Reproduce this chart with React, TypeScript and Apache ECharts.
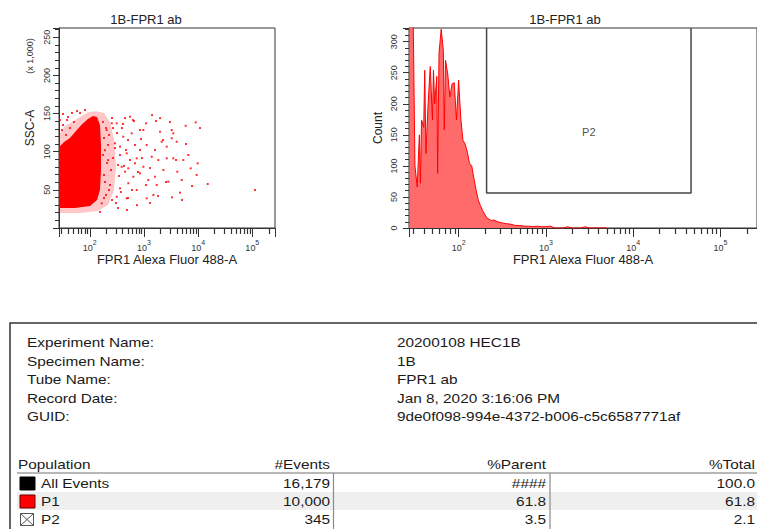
import React, { useEffect, useRef } from 'react';
import * as echarts from 'echarts';

const FONT = '"Liberation Sans", Arial, sans-serif';

// ---------- plot texts ----------
const plotTitle = '1B-FPR1 ab';
const xAxisTitle = 'FPR1 Alexa Fluor 488-A';
const leftYTitle = 'SSC-A';
const leftYUnit = '(x 1,000)';
const rightYTitle = 'Count';

// ---------- axes ----------
const xMin = 27;
const xMax = 262144;
const decadeTicks = [100, 1000, 10000, 100000];
const minorXTicks = [
  30, 40, 50, 60, 70, 80, 90,
  200, 300, 400, 500, 600, 700, 800, 900,
  2000, 3000, 4000, 5000, 6000, 7000, 8000, 9000,
  20000, 30000, 40000, 50000, 60000, 70000, 80000, 90000,
  200000,
];
const sscMax = 262.144;
const countMax = 322;

// ---------- dot plot (FPR1 vs SSC-A x1000) ----------
// dense core outline of the population
const coreX = [27, 27, 33.4, 43, 55.6, 71.8, 92.6, 114.6, 135.8, 154, 161, 161, 154, 136, 101, 53, 27];
const coreY = [27.5, 106, 112.7, 118, 127, 136, 142.9, 146.8, 145.5, 135, 108.8, 76, 49.8, 36.7, 28.8, 26.2, 26.2];
// lighter, less dense fringe around the core
const haloX = [27, 27, 34.8, 46.9, 65.9, 92.6, 130, 183, 236, 280, 305, 280, 217, 142, 66, 27];
const haloY = [20.9, 121.9, 133.7, 139, 145.5, 151.6, 153, 150.7, 139, 115, 82.6, 49.8, 30, 22.3, 19.7, 19.7];
// individual events outside the core
const sparseEvents: [number, number][] = [
  [112200, 49.8], [15030, 57.7], [9800, 84.8], [9400, 69.5], [9010, 138.5],
  [5890, 134], [6580, 95.7], [7290, 78.2], [4620, 46.3], [3290, 40.2],
  [3250, 128.4], [3480, 124.1], [3480, 91.3], [2630, 91.3], [4120, 73.8],
  [2120, 113.1], [1980, 126.2], [1670, 140.2], [2280, 76], [1720, 56.4],
  [1090, 137.2], [1120, 108.8], [881, 116.6], [845, 102.2], [1200, 62.9],
  [1120, 38.9], [845, 71.7], [636, 67.2], [514, 58.6], [480, 38.9],
  [594, 124.1], [415, 119.7], [480, 97.9], [682, 84.8], [388, 80.3],
  [361, 52], [314, 137.2], [254, 137.2], [205, 128.4], [292, 111],
  [314, 41], [166, 32.4], [552, 145.9], [1490, 43.3], [2630, 106.6],
  [5320, 89.1], [3250, 117.6], [4020, 113.1], [1390, 93.4], [735, 91.3],
  [447, 73.8], [973, 80.3], [1600, 67.2], [4980, 62.9], [2810, 60.7],
  [1840, 89.1], [735, 49.8], [973, 128.4], [361, 106.6], [514, 78.2],
  [191, 102], [217, 89], [183, 69.5], [236, 56.4], [199, 43.3],
  [257, 36.7], [332, 26.2], [361, 95.7], [447, 144], [332, 82.6],
  [32, 135], [38, 141.5], [30.7, 128.4], [43, 131], [36.4, 121.9],
  [51, 138.9], [66, 150.7], [81.5, 154.7], [268, 131], [226, 121.9],
  [393, 131], [627, 141.5], [507, 115.3], [845, 128.4], [1410, 148],
  [1980, 144], [743, 30], [1290, 32.8], [486, 23.6], [154, 21],
  [175, 138.9], [199, 131], [183, 118], [217, 108.8], [175, 95.7],
  [208, 85.2], [246, 76], [191, 60.3], [226, 49.8], [183, 39.3],
  [268, 91.7], [292, 104.8], [318, 124.5], [257, 144.2], [346, 68.2],
  [377, 47.2], [305, 32.8], [428, 81.3], [466, 102.2], [410, 136.3],
  [552, 89.1], [601, 49.8], [507, 39.3], [682, 108.8], [776, 73.4],
  [919, 91.7], [655, 140.2], [1090, 56.4], [1290, 78.6], [1600, 102.2],
  [1815, 41.9], [2245, 115.3], [2550, 60.3], [3020, 138.9], [3900, 89.1],
  [5040, 36.7], [5970, 110.1], [7710, 55], [10820, 131], [39.6, 145.5],
  [46.9, 150.7], [32, 149.4], [58, 153.3], [28.2, 141.5],
];

// ---------- histogram (FPR1 vs Count) ----------
const histX = [
  27.2, 28.2, 29.9, 31.6, 33.5, 35.5, 36.5, 37.6, 39.8, 40.9, 42.2, 44.7, 47.3, 50.1, 51.5, 53.1,
  56.2, 57.5, 59.6, 63.1, 66.8, 68.5, 70.8, 75.0, 79.4, 84.1, 89.1, 94.4, 100, 105.9, 112.2,
  118.9, 125.9, 133.4, 141.3, 149.6, 158.5, 167.9, 177.8, 188.4, 199.5, 211.3, 223.9, 237.1,
  251.2, 281.8, 316.2, 354.8, 398.1, 446.7, 501.2, 562.3, 631, 708, 794, 891, 1000, 1122,
  1259, 1413, 1585, 1778, 1995, 2239, 2512, 2818, 3162, 5012,
];
const histCount = [
  420, 420, 380, 100, 66, 150, 72, 174, 162, 254, 120, 200, 260, 174, 254, 200,
  244, 88, 281, 320, 286, 158, 270, 248, 211, 232, 234, 174, 238, 176, 141,
  135, 122, 104, 100, 80, 61, 45, 36, 28, 22, 16, 14, 12,
  13, 10, 8, 7, 6, 4, 4, 3, 3, 2, 3, 2, 2, 3,
  0, 0, 0, 2, 0, 0, 0, 2, 0, 0,
];

// ---------- P2 gate ----------
const gateName = 'P2';
const gateX = [209, 209, 46000, 46000];
const gateY = [322, 56.5, 56.5, 322];
const gateLabelPos: [number, number] = [3100, 154];

// ---------- report table ----------
const infoLabels = ['Experiment Name:', 'Specimen Name:', 'Tube Name:', 'Record Date:', 'GUID:'];
const infoValues = ['20200108 HEC1B', '1B', 'FPR1 ab', 'Jan 8, 2020 3:16:06 PM', '9de0f098-994e-4372-b006-c5c6587771af'];
const tableHeaders = ['Population', '#Events', '%Parent', '%Total'];
const popNames = ['All Events', 'P1', 'P2'];
const popEvents = ['16,179', '10,000', '345'];
const popParent = ['####', '61.8', '3.5'];
const popTotal = ['100.0', '61.8', '2.1'];
const popSwatch = ['black', 'red', 'cross'];

const AX = '#333333';

function superLabel(v: number) {
  return `{b|10}{e|${Math.round(Math.log10(v))}}`;
}

// log data axis: native decade ticks, decade labels and the title
function dataXAxis(gridIndex: number) {
  return {
    type: 'log',
    logBase: 10,
    gridIndex,
    min: xMin,
    max: xMax,
    position: 'bottom',
    name: xAxisTitle,
    nameLocation: 'middle',
    nameGap: 21,
    nameTextStyle: { fontSize: 13, color: '#222', fontFamily: FONT },
    axisLine: { show: true, lineStyle: { color: AX, width: 1 } },
    axisTick: { show: true, length: 9, lineStyle: { color: AX, width: 1 } },
    axisLabel: {
      show: true,
      customValues: decadeTicks,
      margin: 11,
      color: '#333',
      fontFamily: FONT,
      formatter: superLabel,
      rich: {
        b: { fontSize: 9, fontFamily: FONT, color: '#333', verticalAlign: 'bottom', padding: [4, 0, 0, 0] },
        e: { fontSize: 7, fontFamily: FONT, color: '#333', verticalAlign: 'top' },
      },
    },
    splitLine: { show: false },
    minorTick: { show: false },
    minorSplitLine: { show: false },
  };
}

function yAxisDef(gridIndex: number, max: number, name: string, nameGap: number, margin: number, hideZero: boolean) {
  return {
    type: 'value',
    gridIndex,
    min: 0,
    max,
    interval: 50,
    position: 'left',
    name,
    nameLocation: 'middle',
    nameGap,
    nameTextStyle: { fontSize: 12, color: '#222', fontFamily: FONT },
    axisLine: { show: true, lineStyle: { color: AX, width: 1 } },
    axisTick: { show: true, length: 6, lineStyle: { color: AX } },
    minorTick: { show: true, splitNumber: 5, length: 4, lineStyle: { color: AX } },
    axisLabel: {
      rotate: 90,
      fontSize: 9,
      margin,
      color: '#333',
      fontFamily: FONT,
      showMaxLabel: false,
      formatter: (v: number) => (hideZero && v === 0 ? '' : String(v)),
    },
    splitLine: { show: false },
    minorSplitLine: { show: false },
  };
}

function polygonSeries(xs: number[], ys: number[], fill: string) {
  return {
    type: 'custom',
    xAxisIndex: 0,
    yAxisIndex: 0,
    silent: true,
    data: xs.map((x, i) => [x, ys[i]]),
    renderItem: (params: any, api: any) => {
      if (params.dataIndex !== 0) return null;
      const pts = xs.map((x, i) => api.coord([x, ys[i]]));
      return { type: 'polygon', shape: { points: pts }, style: { fill } };
    },
  };
}

function tableGraphics() {
  const els: any[] = [];
  const txt = (text: string, x: number, y: number, align: string) => ({
    type: 'text',
    x,
    y,
    scaleX: 1.2,
    style: { text, fontSize: 12.8, fontFamily: FONT, fill: '#1a1a1a', align, verticalAlign: 'middle' },
  });
  // outer frame
  els.push({ type: 'rect', shape: { x: 10, y: 323, width: 800, height: 300 }, style: { fill: 'none', stroke: '#333', lineWidth: 1.5 } });
  // info block
  infoLabels.forEach((t, i) => els.push(txt(t, 27, 342.5 + i * 18.5, 'left')));
  infoValues.forEach((t, i) => els.push(txt(t, 397, 342.5 + i * 18.5, 'left')));
  // P1 row band
  els.push({ type: 'rect', shape: { x: 17, y: 492, width: 800, height: 18 }, style: { fill: '#efefef' } });
  // header
  const headerY = 464;
  els.push(txt(tableHeaders[0], 18, headerY, 'left'));
  els.push(txt(tableHeaders[1], 330, headerY, 'right'));
  els.push(txt(tableHeaders[2], 546, headerY, 'right'));
  els.push(txt(tableHeaders[3], 755, headerY, 'right'));
  els.push({ type: 'line', shape: { x1: 17, y1: 473, x2: 800, y2: 473 }, style: { stroke: '#a0a0a0', lineWidth: 1.5 } });
  els.push({ type: 'line', shape: { x1: 333.5, y1: 473, x2: 333.5, y2: 540 }, style: { stroke: '#8a8a8a', lineWidth: 1.2 } });
  els.push({ type: 'line', shape: { x1: 550, y1: 473, x2: 550, y2: 540 }, style: { stroke: '#8a8a8a', lineWidth: 1.2 } });
  // rows
  popNames.forEach((name, i) => {
    const cy = 483.5 + i * 18;
    const sw = popSwatch[i];
    if (sw === 'cross') {
      els.push({ type: 'rect', shape: { x: 20.5, y: cy - 6, width: 13, height: 12 }, style: { fill: '#fff', stroke: '#555', lineWidth: 1 } });
      els.push({ type: 'line', shape: { x1: 20.5, y1: cy - 6, x2: 33.5, y2: cy + 6 }, style: { stroke: '#555', lineWidth: 1 } });
      els.push({ type: 'line', shape: { x1: 33.5, y1: cy - 6, x2: 20.5, y2: cy + 6 }, style: { stroke: '#555', lineWidth: 1 } });
    } else {
      els.push({
        type: 'rect',
        shape: { x: 20, y: cy - 6.5, width: 15, height: 13 },
        style: { fill: sw === 'red' ? '#ff0000' : '#000', stroke: sw === 'red' ? '#600' : '#000', lineWidth: 1 },
      });
    }
    els.push(txt(name, 41, cy, 'left'));
    els.push(txt(popEvents[i], 330, cy, 'right'));
    els.push(txt(popParent[i], 546, cy, 'right'));
    els.push(txt(popTotal[i], 755, cy, 'right'));
  });
  // "(x 1,000)" unit label on the SSC axis
  els.push({
    type: 'text',
    x: 30,
    y: 56,
    rotation: Math.PI / 2,
    style: { text: leftYUnit, fontSize: 9, fontFamily: FONT, fill: '#333', align: 'center', verticalAlign: 'middle' },
  });
  return els;
}

// minor (2..9 x 10^n) x tick marks, placed with the log axes' own value-to-pixel conversion
function minorTickGraphics(chart: any) {
  const els: any[] = [];
  [0, 1].forEach((axisIdx) => {
    const yBottom = chart.convertToPixel({ yAxisIndex: axisIdx }, 0);
    minorXTicks.forEach((v) => {
      const px = chart.convertToPixel({ xAxisIndex: axisIdx }, v);
      if (typeof px !== 'number' || !isFinite(px) || px > 757) return;
      const x = Math.round(px) + 0.5;
      els.push({
        type: 'line',
        shape: { x1: x, y1: yBottom, x2: x, y2: yBottom + 6 },
        style: { stroke: AX, lineWidth: 1.2 },
      });
    });
  });
  return els;
}

export default function App() {
  const ref = useRef<HTMLDivElement>(null);
  useEffect(() => {
    if (!ref.current) return;
    const chart = echarts.init(ref.current, null, { renderer: 'svg' });
    const option: any = {
      animation: false,
      backgroundColor: '#fff',
      textStyle: { fontFamily: FONT },
      title: [
        { text: plotTitle, left: 146, top: 13, padding: 0, textAlign: 'center', textStyle: { fontSize: 13, fontWeight: 'normal', color: '#222', fontFamily: FONT } },
        { text: plotTitle, left: 565, top: 13, padding: 0, textAlign: 'center', textStyle: { fontSize: 13, fontWeight: 'normal', color: '#222', fontFamily: FONT } },
      ],
      grid: [
        { left: 59, top: 28, width: 216, height: 200, show: true, borderColor: AX, borderWidth: 1 },
        { left: 409, top: 28, width: 351, height: 200, show: true, borderColor: AX, borderWidth: 1 },
      ],
      xAxis: [dataXAxis(0), dataXAxis(1)],
      yAxis: [
        yAxisDef(0, sscMax, leftYTitle, 23, 8, true),
        yAxisDef(1, countMax, rightYTitle, 25, 11, false),
      ],
      series: [
        polygonSeries(haloX, haloY, 'rgba(255,0,0,0.22)'),
        polygonSeries(coreX, coreY, '#ff0000'),
        {
          type: 'scatter',
          xAxisIndex: 0,
          yAxisIndex: 0,
          symbol: 'rect',
          symbolSize: 2,
          itemStyle: { color: '#ff0000', opacity: 0.8 },
          data: sparseEvents,
          silent: true,
        },
        {
          type: 'line',
          xAxisIndex: 1,
          yAxisIndex: 1,
          showSymbol: false,
          symbol: 'none',
          clip: true,
          lineStyle: { color: '#ff0000', width: 1 },
          areaStyle: { color: '#ff6b6b', opacity: 1 },
          data: histX.map((x, i) => [x, histCount[i]]),
          silent: true,
        },
        {
          type: 'line',
          xAxisIndex: 1,
          yAxisIndex: 1,
          symbol: 'none',
          clip: true,
          lineStyle: { color: '#444', width: 1.5 },
          data: gateX.map((x, i) => [x, gateY[i]]),
          silent: true,
        },
        {
          type: 'scatter',
          xAxisIndex: 1,
          yAxisIndex: 1,
          symbolSize: 1,
          itemStyle: { color: 'rgba(0,0,0,0)' },
          label: { show: true, position: 'inside', formatter: gateName, fontSize: 11, color: '#222', fontFamily: FONT },
          data: [gateLabelPos],
          silent: true,
        },
      ],
    };
    chart.setOption(option);
    chart.setOption({ graphic: [...tableGraphics(), ...minorTickGraphics(chart)] });
    return () => chart.dispose();
  }, []);
  return (
    <div
      ref={ref}
      style={{ position: 'fixed', left: 0, top: 0, width: 757, height: 529, background: '#fff' }}
    />
  );
}
